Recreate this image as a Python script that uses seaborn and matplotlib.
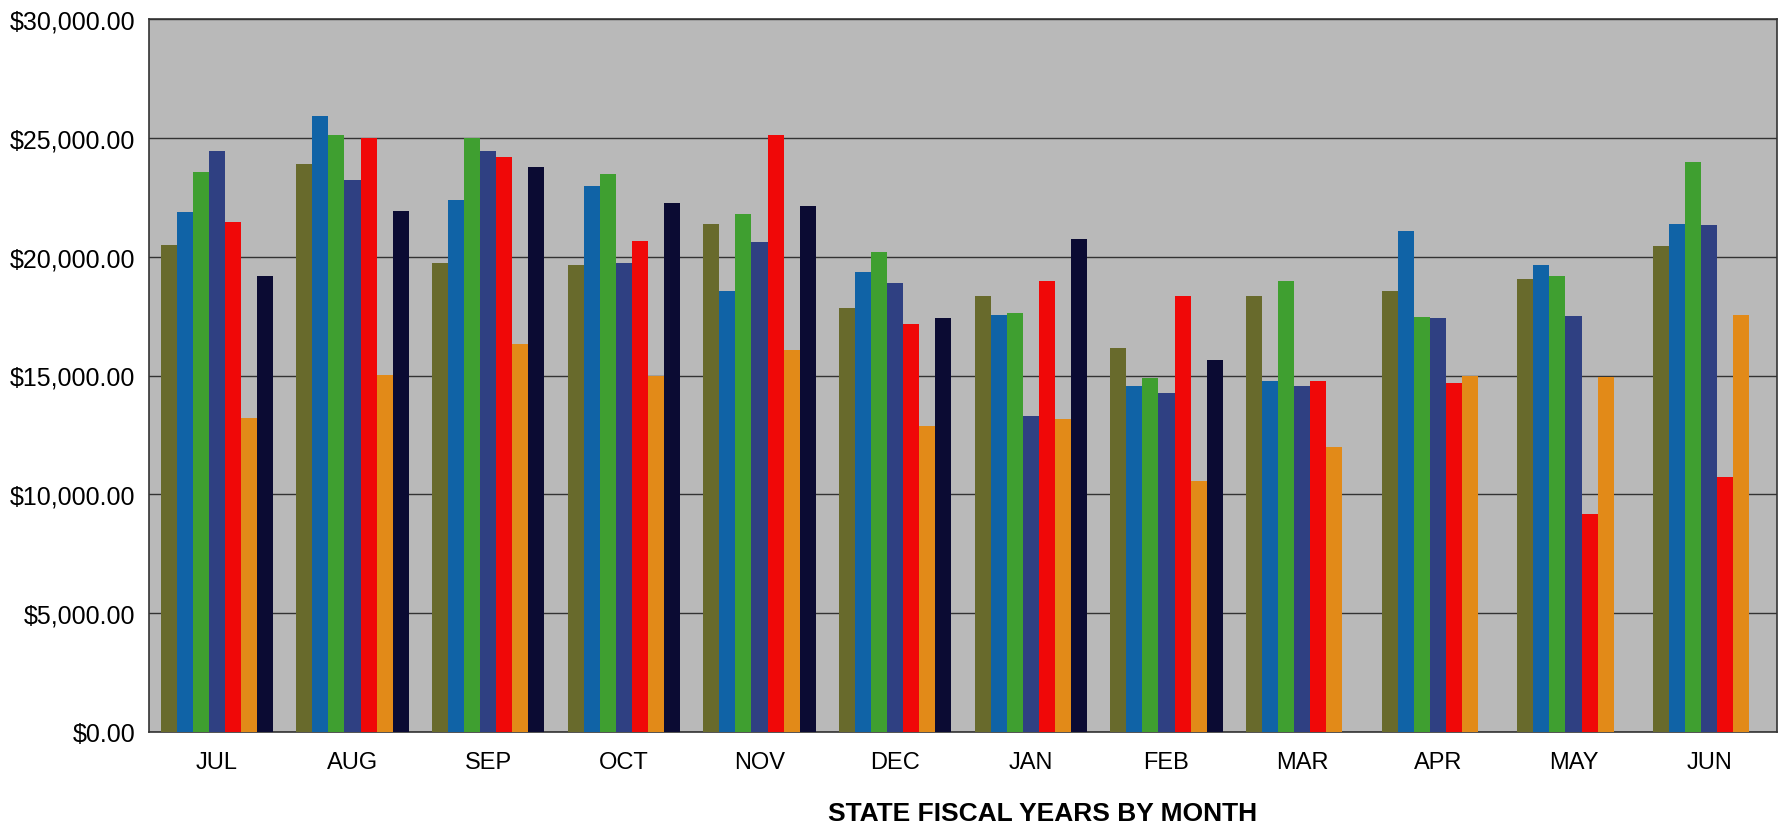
import numpy as np
import pandas as pd
import matplotlib
matplotlib.use("Agg")
import matplotlib.pyplot as plt
from matplotlib.ticker import FuncFormatter, MultipleLocator
import seaborn as sns

# values (dollars), one list per fiscal year series
months = ["JUL", "AUG", "SEP", "OCT", "NOV", "DEC", "JAN", "FEB", "MAR", "APR", "MAY", "JUN"]
fy_1 = [20500, 23900, 19750, 19650, 21380, 17860, 18330, 16170, 18330, 18570, 19060, 20440]
fy_2 = [21890, 25930, 22380, 22960, 18570, 19370, 17540, 14550, 14750, 21100, 19670, 21360]
fy_3 = [23550, 25100, 25000, 23480, 21800, 20210, 17610, 14900, 18990, 17480, 19200, 23980]
fy_4 = [24460, 23230, 24440, 19720, 20610, 18900, 13310, 14270, 14540, 17410, 17520, 21320]
fy_5 = [21470, 25000, 24180, 20660, 25140, 17160, 18990, 18360, 14750, 14700, 9160, 10740]
fy_6 = [13200, 15030, 16330, 14960, 16060, 12890, 13170, 10570, 12000, 14990, 14920, 17550]
fy_7 = [19170, 21930, 23760, 22250, 22140, 17430, 20730, 15660, np.nan, np.nan, np.nan, np.nan]

series_names = ["FY1", "FY2", "FY3", "FY4", "FY5", "FY6", "FY7"]
colors = ["#686a2c", "#1063a6", "#3f9f30", "#2f4082", "#f00808", "#e28a18", "#0b0b33"]

rows = []
for name, vals in zip(series_names, [fy_1, fy_2, fy_3, fy_4, fy_5, fy_6, fy_7]):
    for m, v in zip(months, vals):
        rows.append({"month": m, "year": name, "amount": v})
df = pd.DataFrame(rows)

sns.set_style("white")
plt.rcParams["font.family"] = ["Liberation Sans", "DejaVu Sans"]
plt.rcParams["text.color"] = "black"
plt.rcParams["axes.labelcolor"] = "black"
plt.rcParams["xtick.color"] = "black"
plt.rcParams["ytick.color"] = "black"

fig = plt.figure(figsize=(17.81, 8.29), dpi=100, facecolor="white")
ax = fig.add_axes([149 / 1781, 1 - 733 / 829, (1777 - 149) / 1781, (733 - 20) / 829])
ax.set_facecolor("#b9b9b9")

sns.barplot(data=df, x="month", y="amount", hue="year", order=months,
            hue_order=series_names, palette=colors, width=0.83,
            saturation=1, linewidth=0, errorbar=None, legend=False, ax=ax, zorder=3)

ax.set_ylim(0, 30000)
ax.set_xlim(-0.5, 11.5)
ax.yaxis.set_major_locator(MultipleLocator(5000))
ax.yaxis.set_major_formatter(FuncFormatter(lambda v, p: f"${v:,.2f}"))
ax.grid(axis="y", color="#333333", linewidth=1.0, zorder=1)
ax.set_axisbelow(True)

# month labels centred, tick marks on group boundaries
ax.set_xticks(np.arange(12))
ax.set_xticklabels(months)
ax.set_xticks(np.arange(-0.5, 12, 1), minor=True)
ax.tick_params(axis="x", which="major", length=0, pad=14, labelsize=17, labelcolor="black")
ax.tick_params(axis="x", which="minor", length=7, width=1, color="#333333", direction="out")
ax.tick_params(axis="y", length=6, width=1, color="#333333", direction="out", labelsize=18,
               pad=4, labelcolor="black")

for side in ["left", "bottom", "top", "right"]:
    ax.spines[side].set_visible(True)
    ax.spines[side].set_color("#333333")
    ax.spines[side].set_linewidth(1.2)

ax.set_ylabel("")
ax.set_xlabel("STATE FISCAL YEARS BY MONTH", fontsize=19, fontweight="bold", labelpad=0, color="black")
ax.xaxis.set_label_coords((1043 - 149) / (1777 - 149), -(802 - 733) / (733 - 20))

fig.savefig("out.png", dpi=100, facecolor="white")
